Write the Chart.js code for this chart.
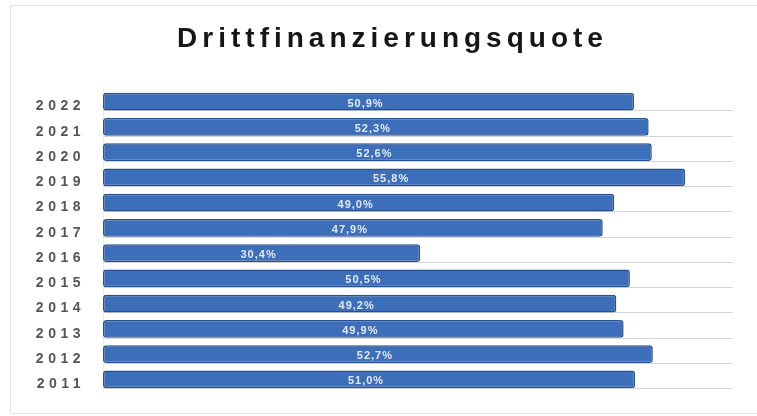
<!DOCTYPE html>
<html lang="de">
<head>
<meta charset="utf-8">
<title>Drittfinanzierungsquote</title>
<script src="https://cdn.jsdelivr.net/npm/chart.js@4.4.1/dist/chart.umd.min.js"></script>
<style>
  html, body { margin: 0; padding: 0; background: #ffffff; }
  #wrap { position: relative; width: 757px; height: 416px; }
</style>
</head>
<body>
<div id="wrap"><canvas id="quoteChart" width="757" height="416"></canvas></div>
<script>
// Jahre (oben = neuestes Jahr) und Quote in Prozent
const years = ['2022', '2021', '2020', '2019', '2018', '2017', '2016', '2015', '2014', '2013', '2012', '2011'];
const quote = [50.9, 52.3, 52.6, 55.8, 49.0, 47.9, 30.4, 50.5, 49.2, 49.9, 52.7, 51.0];
const axisMax = 60;
const chartTitle = 'Drittfinanzierungsquote';

function fmtPercent(v) {
    return v.toFixed(1).replace('.', ',') + '%';
}

// Rahmen, Titel, Boden-Linien und Beschriftungen der Balken
const decorPlugin = {
    id: 'decor',
    beforeDraw(chart) {
        const ctx = chart.ctx;
        ctx.save();
        ctx.strokeStyle = '#e2e2e2';
        ctx.lineWidth = 1;
        ctx.strokeRect(10.5, 5.5, 760, 408);

        // gesperrter Titel, mittig ueber dem Diagramm
        ctx.letterSpacing = '5px';
        ctx.font = 'bold 28px "Liberation Sans", Arial, sans-serif';
        ctx.fillStyle = '#161616';
        ctx.textAlign = 'center';
        ctx.textBaseline = 'middle';
        ctx.fillText(chartTitle, 392.5, 39);
        ctx.restore();

        // Jahreszahlen ebenfalls gesperrt
        ctx.letterSpacing = '4.5px';
    },
    beforeDatasetsDraw(chart) {
        const ctx = chart.ctx;
        const area = chart.chartArea;
        const bars = chart.getDatasetMeta(0).data;
        ctx.save();
        ctx.strokeStyle = '#d6d6d6';
        ctx.lineWidth = 1;
        bars.forEach(bar => {
            const y = Math.round(bar.y + bar.height / 2) + 0.5;
            ctx.beginPath();
            ctx.moveTo(area.left, y);
            ctx.lineTo(area.right + 4, y);
            ctx.stroke();
        });
        ctx.restore();
    },
    afterDatasetsDraw(chart) {
        const ctx = chart.ctx;
        const bars = chart.getDatasetMeta(0).data;
        ctx.save();
        ctx.letterSpacing = '1px';
        ctx.font = 'bold 11px "Liberation Sans", Arial, sans-serif';
        ctx.fillStyle = '#e3eaf6';
        ctx.textAlign = 'center';
        ctx.textBaseline = 'middle';
        bars.forEach((bar, i) => {
            const cx = (bar.base + bar.x) / 2 - 3;
            ctx.fillText(fmtPercent(quote[i]), cx, bar.y + 2);
        });
        ctx.restore();
    }
};

const ctx = document.getElementById('quoteChart').getContext('2d');
new Chart(ctx, {
    type: 'bar',
    data: {
        labels: years,
        datasets: [{
            label: chartTitle,
            data: quote,
            backgroundColor: '#3d6eba',
            borderColor: '#27508d',
            borderWidth: 1.5,
            borderRadius: 3,
            borderSkipped: false,
            barPercentage: 0.7,
            categoryPercentage: 1.0
        }]
    },
    options: {
        indexAxis: 'y',
        responsive: false,
        animation: false,
        layout: {
            padding: { top: 89, left: 20, right: 28, bottom: 24 }
        },
        scales: {
            x: {
                display: false,
                min: 0,
                max: axisMax
            },
            y: {
                grid: { display: false },
                border: { display: true, color: '#ececec', width: 1 },
                ticks: {
                    color: '#555555',
                    padding: 10,
                    labelOffset: 5,
                    font: { family: '"Liberation Sans", Arial, sans-serif', size: 14, weight: 'bold' }
                },
                afterFit(scale) {
                    scale.width = 83;
                }
            }
        },
        plugins: {
            legend: { display: false },
            tooltip: { enabled: false },
            title: { display: false }
        }
    },
    plugins: [decorPlugin]
});
</script>
</body>
</html>
